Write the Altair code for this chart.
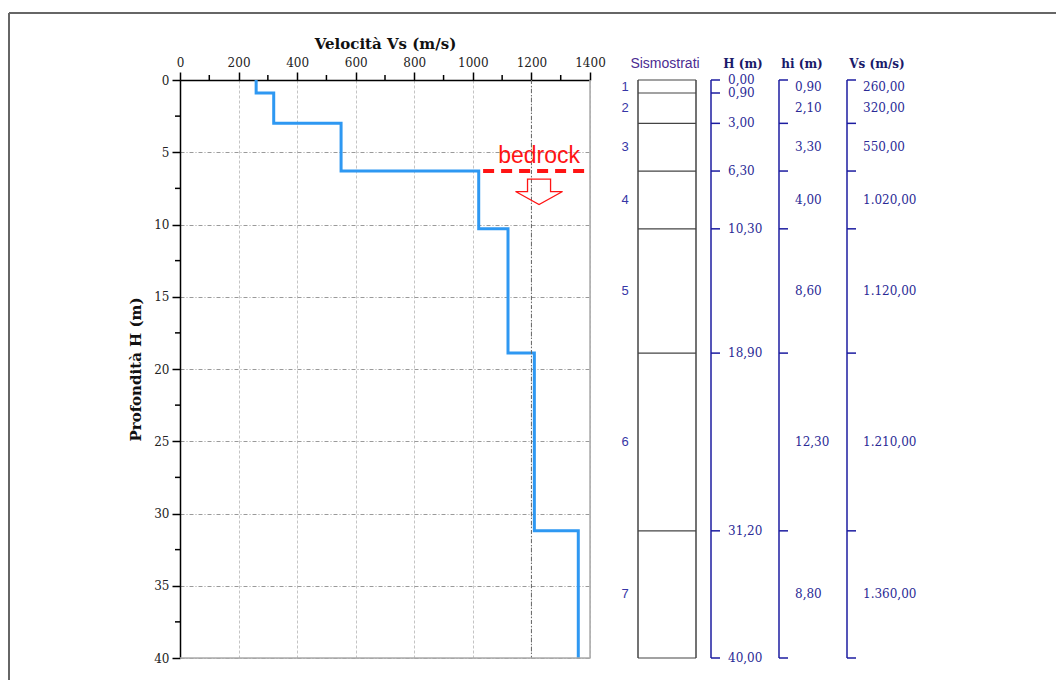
import altair as alt
import pandas as pd

# ---------------- data ----------------
layer_ids = [1, 2, 3, 4, 5, 6, 7]
hi = [0.90, 2.10, 3.30, 4.00, 8.60, 12.30, 8.80]          # layer thickness (m)
vs = [260, 320, 550, 1020, 1120, 1210, 1360]              # shear-wave velocity (m/s)
bracket_depths = [0.0, 3.0, 6.3, 10.3, 18.9, 31.2, 40.0]  # ticks of hi / Vs columns
x_ticks = [0, 200, 400, 600, 800, 1000, 1200, 1400]
x_minor = [100, 300, 500, 700, 900, 1100, 1300]
y_ticks = [0, 5, 10, 15, 20, 25, 30, 35, 40]
y_minor = [2.5, 7.5, 12.5, 17.5, 22.5, 27.5, 32.5, 37.5]
dark_grid = [1200]
bedrock_depth = 6.3
bedrock_x = [1035, 1385]
bedrock_label = "bedrock"
arrow_at = (1226, 7.72)

# ---------------- derived tables ----------------
tops, bots = [], []
d = 0.0
for h in hi:
    tops.append(round(d, 2))
    d += h
    bots.append(round(d, 2))
boundaries = [0.0] + bots
total = bots[-1]


def it_fmt(v):
    s = f"{v:,.2f}"
    return s.replace(",", "X").replace(".", ",").replace("X", ".")


step_rows = []
for i, (v, t, b) in enumerate(zip(vs, tops, bots)):
    step_rows.append({"vs": v, "depth": t, "ord": 2 * i})
    step_rows.append({"vs": v, "depth": b, "ord": 2 * i + 1})
df_step = pd.DataFrame(step_rows)

df_layers = pd.DataFrame({
    "id": [str(i) for i in layer_ids],
    "mid": [(t + b) / 2 for t, b in zip(tops, bots)],
    "hi_lbl": [it_fmt(h) for h in hi],
    "vs_lbl": [it_fmt(v) for v in vs],
})
df_bound = pd.DataFrame({"depth": boundaries, "lbl": [it_fmt(b) for b in boundaries]})
df_bracket = pd.DataFrame({"depth": bracket_depths})
df_span = pd.DataFrame({"top": [0.0], "bot": [total]})
df_xminor = pd.DataFrame({"vs": x_minor})
df_yminor = pd.DataFrame({"depth": y_minor})
df_dark = pd.DataFrame({"vs": dark_grid})
df_bed = pd.DataFrame({"vs": [bedrock_x[0]], "vs2": [bedrock_x[1]], "depth": [bedrock_depth]})
df_arrow = pd.DataFrame({"vs": [arrow_at[0]], "depth": [arrow_at[1]]})
df_bedtxt = pd.DataFrame({"vs": [arrow_at[0]], "depth": [bedrock_depth - 1.05], "t": [bedrock_label]})

# ---------------- styles ----------------
SERIF = "DejaVu Serif"
SANS = "Liberation Sans"
NAVY = "#1c1ca0"
NUM = "#2a2a96"
HEAD = "#1a1a6a"
W, H = 410, 578

xs = alt.Scale(domain=[0, 1400], nice=False, zero=False)
ys = alt.Scale(domain=[0, 40], nice=False, zero=False, reverse=True)

x_axis = alt.Axis(orient="top", values=x_ticks, format="d", title="Velocità Vs (m/s)", grid=True,
                  gridColor="#c4c4c4", gridDash=[3, 2], gridWidth=1, labelFlush=False,
                  domainColor="black", domainWidth=1.5, tickColor="black", tickWidth=1.5,
                  tickSize=8, labelPadding=3, labelFont=SERIF, labelFontSize=12,
                  labelColor="#222", titleFont=SERIF, titleFontSize=15, titleFontWeight="bold",
                  titleColor="#111", titlePadding=5)
y_axis = alt.Axis(orient="left", values=y_ticks, format="d", title="Profondità H (m)", grid=True,
                  gridColor="#9a9a9a", gridDash=[4, 2, 1, 2], gridWidth=1, labelFlush=False,
                  domainColor="black", domainWidth=1.5, tickColor="black", tickWidth=1.5,
                  tickSize=8, labelPadding=3, labelFont=SERIF, labelFontSize=12,
                  labelColor="#222", titleFont=SERIF, titleFontSize=15, titleFontWeight="bold",
                  titleColor="#111", titlePadding=10)

X = alt.X("vs:Q", scale=xs)
Y = alt.Y("depth:Q", scale=ys)

# ---------------- main plot ----------------
main_line = alt.Chart(df_step).mark_line(color="#2e98f2", strokeWidth=3, interpolate="linear").encode(
    x=alt.X("vs:Q", scale=xs, axis=x_axis),
    y=alt.Y("depth:Q", scale=ys, axis=y_axis),
    order="ord:Q",
)

dark_rule = alt.Chart(df_dark).mark_rule(color="#666", strokeDash=[4, 2, 1, 2], strokeWidth=1).encode(
    x=X, y=alt.value(0), y2=alt.value(H))

border_right = alt.Chart(df_span).mark_rule(color="#aaa", strokeWidth=1.5).encode(
    x=alt.value(W), y=alt.value(0), y2=alt.value(H))
border_bottom = alt.Chart(df_span).mark_rule(color="#aaa", strokeWidth=1.5).encode(
    x=alt.value(0), x2=alt.value(W), y=alt.value(H))

xminor = alt.Chart(df_xminor).mark_rule(color="black", strokeWidth=1.5).encode(
    x=X, y=alt.value(-5), y2=alt.value(0))
yminor = alt.Chart(df_yminor).mark_rule(color="black", strokeWidth=1.5).encode(
    y=Y, x=alt.value(-5), x2=alt.value(0))

bed_line = alt.Chart(df_bed).mark_rule(color="#ff1414", strokeWidth=4, strokeDash=[11, 7]).encode(
    x=X, x2="vs2:Q", y=Y)
bed_text = alt.Chart(df_bedtxt).mark_text(color="#ff1414", font=SANS, fontSize=23, baseline="middle",
                                          align="center").encode(x=X, y=Y, text="t:N")
arrow_path = "M -0.49 -0.53 L 0.49 -0.53 L 0.49 0 L 1 0 L 0 0.55 L -1 0 L -0.49 0 Z"
bed_arrow = alt.Chart(df_arrow).mark_point(shape=arrow_path, size=2209, filled=False, color="#ff1414",
                                           strokeWidth=1.3, opacity=1).encode(x=X, y=Y)

# ---------------- right-hand column panel ----------------
BOX_L, BOX_R = 458, 516
NUM_X = 445
H_LINE, HI_LINE, VS_LINE = 531, 599, 667
TICK = 9

box_sides = [
    alt.Chart(df_span).mark_rule(color="#444", strokeWidth=1.5).encode(
        x=alt.value(xv), y=alt.value(0), y2=alt.value(H))
    for xv in (BOX_L, BOX_R)
]
box_lines = alt.Chart(df_bound).mark_rule(color="#444", strokeWidth=1.2).encode(
    x=alt.value(BOX_L), x2=alt.value(BOX_R), y=Y)

col_lines = [
    alt.Chart(df_span).mark_rule(color=NAVY, strokeWidth=1.5).encode(
        x=alt.value(xv), y=alt.value(0), y2=alt.value(H))
    for xv in (H_LINE, HI_LINE, VS_LINE)
]
h_ticks = alt.Chart(df_bound).mark_rule(color=NAVY, strokeWidth=1.5).encode(
    x=alt.value(H_LINE), x2=alt.value(H_LINE + TICK), y=Y)
br_ticks = [
    alt.Chart(df_bracket).mark_rule(color=NAVY, strokeWidth=1.5).encode(
        x=alt.value(xv), x2=alt.value(xv + TICK), y=Y)
    for xv in (HI_LINE, VS_LINE)
]

num_style = dict(font=SERIF, fontSize=12, color=NUM, baseline="middle", align="left")
h_text = alt.Chart(df_bound).mark_text(**num_style).encode(
    x=alt.value(548), y=Y, text="lbl:N")
hi_text = alt.Chart(df_layers).mark_text(**num_style).encode(
    x=alt.value(615), y=alt.Y("mid:Q", scale=ys), text="hi_lbl:N")
vs_text = alt.Chart(df_layers).mark_text(**num_style).encode(
    x=alt.value(683), y=alt.Y("mid:Q", scale=ys), text="vs_lbl:N")
id_text = alt.Chart(df_layers).mark_text(font=SANS, fontSize=13, color="#3636a6", baseline="middle",
                                         align="center").encode(
    x=alt.value(NUM_X), y=alt.Y("mid:Q", scale=ys), text="id:N")

HEAD_Y = -16
headers = [
    alt.Chart(df_span).mark_text(text="Sismostrati", font=SANS, fontSize=14, color="#4b2c92",
                                 baseline="middle", align="center").encode(
        x=alt.value(485), y=alt.value(HEAD_Y)),
    alt.Chart(df_span).mark_text(text="H (m)", font=SERIF, fontSize=12, fontWeight="bold", color=HEAD,
                                 baseline="middle", align="center").encode(
        x=alt.value(563), y=alt.value(HEAD_Y)),
    alt.Chart(df_span).mark_text(text="hi (m)", font=SERIF, fontSize=12, fontWeight="bold", color=HEAD,
                                 baseline="middle", align="center").encode(
        x=alt.value(622), y=alt.value(HEAD_Y)),
    alt.Chart(df_span).mark_text(text="Vs (m/s)", font=SERIF, fontSize=12, fontWeight="bold", color=HEAD,
                                 baseline="middle", align="center").encode(
        x=alt.value(697), y=alt.value(HEAD_Y)),
]

# ---------------- page frame ----------------
frame_left = alt.Chart(df_span).mark_rule(color="#666", strokeWidth=2).encode(
    x=alt.value(-171), y=alt.value(-67), y2=alt.value(H + 22))
frame_top = alt.Chart(df_span).mark_rule(color="#666", strokeWidth=2).encode(
    x=alt.value(-171), x2=alt.value(W + 466), y=alt.value(-67))

chart = alt.layer(
    main_line, dark_rule, border_right, border_bottom, xminor, yminor,
    bed_line, bed_text, bed_arrow,
    *box_sides, box_lines, *col_lines, h_ticks, *br_ticks,
    h_text, hi_text, vs_text, id_text, *headers,
    frame_left, frame_top,
).properties(
    width=W, height=H,
    autosize=alt.AutoSizeParams(type="none"),
    padding={"left": 172, "top": 72, "right": 466, "bottom": 22},
).configure_view(stroke=None).configure(background="white")

chart.save("out.html", embed_options={"renderer": "svg", "actions": False})
